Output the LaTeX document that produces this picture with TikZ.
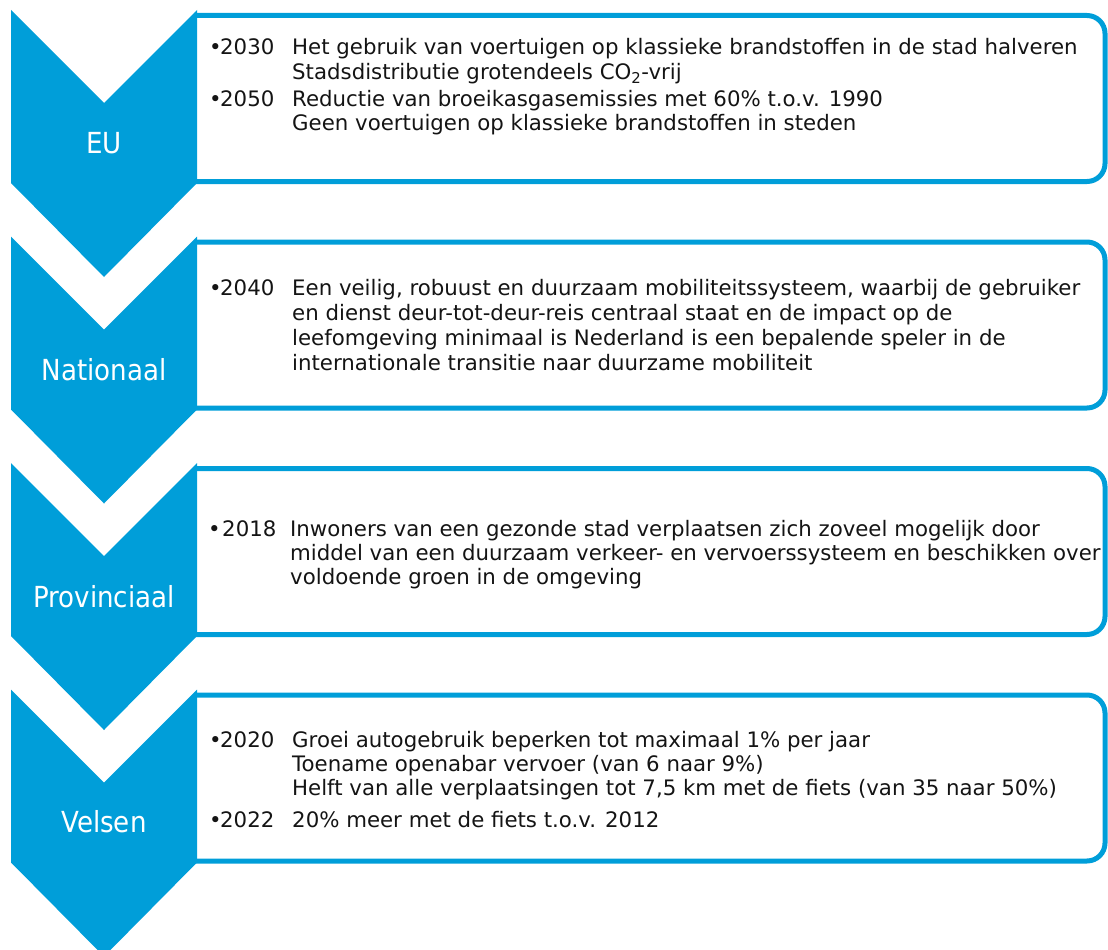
\documentclass[tikz,border=0pt]{standalone}
\usepackage{fontspec}
\setmainfont{DejaVu Sans}
\newfontfamily\condfont{DejaVu Sans Condensed}
\definecolor{blu}{RGB}{0,158,217}
\definecolor{ink}{RGB}{20,20,20}
\newcommand{\txtfont}{\fontsize{21.3}{25}\selectfont}
\newcommand{\lblfont}{\condfont\fontsize{29}{34}\selectfont}
\begin{document}
\begin{tikzpicture}[x=1pt,y=-1pt,
  chev/.style={fill=blu},
  boxline/.style={draw=blu,line width=5pt,rounded corners=18pt},
  lbl/.style={text=white,font=\lblfont,inner sep=0pt},
  ln/.style={anchor=base west,inner sep=0pt,text=ink,font=\txtfont}]
\useasboundingbox (0,0) rectangle (1108,950);
\clip (0,0) rectangle (1108,950);
% boxes
\draw[boxline] (194,15.5) -- (1105,15.5) -- (1105,181.5) -- (194,181.5);
\draw[boxline] (194,242) -- (1105,242) -- (1105,408) -- (194,408);
\draw[boxline] (194,468.5) -- (1105,468.5) -- (1105,634.5) -- (194,634.5);
\draw[boxline] (194,695) -- (1105,695) -- (1105,861) -- (194,861);
% chevrons
\fill[chev] (11,10) -- (104,103) -- (197,10) -- (197,183) -- (104,277) -- (11,183) -- cycle;
\fill[chev] (11,236.5) -- (104,329.5) -- (197,236.5) -- (197,409.5) -- (104,503.5) -- (11,409.5) -- cycle;
\fill[chev] (11,463) -- (104,556) -- (197,463) -- (197,636) -- (104,730) -- (11,636) -- cycle;
\fill[chev] (11,689.5) -- (104,782.5) -- (197,689.5) -- (197,862.5) -- (104,956.5) -- (11,862.5) -- cycle;
% labels
\node[lbl] (eu) at (104,143) {EU};
\node[lbl] (nat) at (104,370) {Nationaal};
\node[lbl] (prov) at (104,597) {Provinciaal};
\node[lbl] (vel) at (104,822) {Velsen};
% box 1
\node[ln] (b1a) at (209,55) {•};
\node[ln] (y1a) at (220,55) {2030};
\node[ln] (t1a) at (292,55) {Het gebruik van voertuigen op klassieke brandstoffen in de stad halveren};
\node[ln] (t1b) at (292,80) {Stadsdistributie grotendeels CO\textsubscript{2}-vrij};
\node[ln] (b1b) at (209,106) {•};
\node[ln] (y1b) at (220,106) {2050};
\node[ln] (t1c) at (292,106) {Reductie van broeikasgasemissies met 60\% t.o.v. 1990};
\node[ln] (t1d) at (292,130) {Geen voertuigen op klassieke brandstoffen in steden};
% box 2
\node[ln] (b2a) at (209,295) {•};
\node[ln] (y2a) at (220,295) {2040};
\node[ln] (t2a) at (292,295) {Een veilig, robuust en duurzaam mobiliteitssysteem, waarbij de gebruiker};
\node[ln] (t2b) at (292,320) {en dienst deur-tot-deur-reis centraal staat en de impact op de};
\node[ln] (t2c) at (292,345) {leefomgeving minimaal is Nederland is een bepalende speler in de};
\node[ln] (t2d) at (292,370) {internationale transitie naar duurzame mobiliteit};
% box 3
\node[ln] (b3a) at (208,536) {•};
\node[ln] (y3a) at (222,536) {2018};
\node[ln] (t3a) at (290,536) {Inwoners van een gezonde stad verplaatsen zich zoveel mogelijk door};
\node[ln] (t3b) at (290,560) {middel van een duurzaam verkeer- en vervoerssysteem en beschikken over};
\node[ln] (t3c) at (290,584) {voldoende groen in de omgeving};
% box 4
\node[ln] (b4a) at (209,747) {•};
\node[ln] (y4a) at (220,747) {2020};
\node[ln] (t4a) at (292,747) {Groei autogebruik beperken tot maximaal 1\% per jaar};
\node[ln] (t4b) at (292,771) {Toename openabar vervoer (van 6 naar 9\%)};
\node[ln] (t4c) at (292,795) {Helft van alle verplaatsingen tot 7,5 km met de fiets (van 35 naar 50\%)};
\node[ln] (b4b) at (209,827) {•};
\node[ln] (y4b) at (220,827) {2022};
\node[ln] (t4d) at (292,827) {20\% meer met de fiets t.o.v. 2012};
\end{tikzpicture}
\end{document}
